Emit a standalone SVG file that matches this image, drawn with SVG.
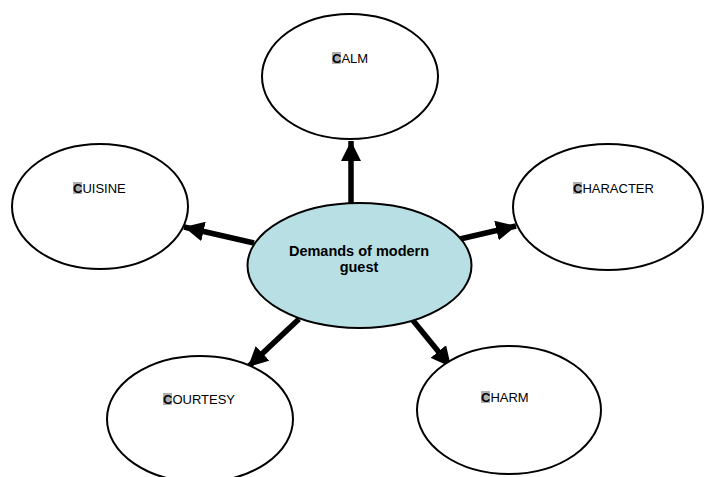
<svg xmlns="http://www.w3.org/2000/svg" width="709" height="477" viewBox="0 0 709 477">
<style>
.node{fill:#ffffff;stroke:#000;stroke-width:2}
.core{fill:#b8dfe3;stroke:#000;stroke-width:2}
.lbl{font-family:"Liberation Sans",Arial,sans-serif;font-size:13px;fill:#000}
.hl{fill:#b0b0b0}
.ctr{font-family:"Liberation Sans",Arial,sans-serif;font-size:14.5px;font-weight:bold;fill:#000}
.conn{stroke:#000;stroke-width:5.5;fill:none}
</style>
<defs>
<marker id="ah" markerUnits="userSpaceOnUse" markerWidth="22" markerHeight="20" refX="20" refY="10" orient="auto">
<path d="M0,0 L20,10 L0,20 Z" fill="#000"/>
</marker>
</defs>
<g id="connectors">
<line class="conn" x1="351" y1="204" x2="351" y2="141" marker-end="url(#ah)"/>
<line class="conn" x1="254" y1="243" x2="184" y2="227" marker-end="url(#ah)"/>
<line class="conn" x1="460" y1="239" x2="516" y2="226" marker-end="url(#ah)"/>
<line class="conn" x1="299" y1="319" x2="248" y2="367" marker-end="url(#ah)"/>
<line class="conn" x1="411" y1="318" x2="451" y2="367" marker-end="url(#ah)"/>
</g>
<g id="center">
<ellipse class="core" cx="359.5" cy="265.5" rx="112" ry="62.5"/>
<text class="ctr" x="359" y="256" text-anchor="middle">Demands of modern</text>
<text class="ctr" x="359" y="272" text-anchor="middle">guest</text>
</g>
<g id="calm">
<ellipse class="node" cx="350" cy="76.5" rx="88" ry="62.5"/>
<rect class="hl" x="332" y="52" width="9" height="12"/>
<text class="lbl" x="332" y="63"><tspan font-weight="bold">C</tspan>ALM</text>
</g>
<g id="cuisine">
<ellipse class="node" cx="100" cy="206.5" rx="88" ry="62.5"/>
<rect class="hl" x="73" y="182" width="9" height="12"/>
<text class="lbl" x="73" y="193"><tspan font-weight="bold">C</tspan>UISINE</text>
</g>
<g id="character">
<ellipse class="node" cx="608" cy="207" rx="95" ry="63"/>
<rect class="hl" x="573" y="182" width="9" height="12"/>
<text class="lbl" x="573" y="193"><tspan font-weight="bold">C</tspan>HARACTER</text>
</g>
<g id="courtesy">
<ellipse class="node" cx="200" cy="419" rx="93" ry="63"/>
<rect class="hl" x="163" y="393" width="9" height="12"/>
<text class="lbl" x="163" y="404"><tspan font-weight="bold">C</tspan>OURTESY</text>
</g>
<g id="charm">
<ellipse class="node" cx="509" cy="410" rx="92" ry="64"/>
<rect class="hl" x="481" y="391" width="9" height="12"/>
<text class="lbl" x="481" y="402"><tspan font-weight="bold">C</tspan>HARM</text>
</g>
</svg>
